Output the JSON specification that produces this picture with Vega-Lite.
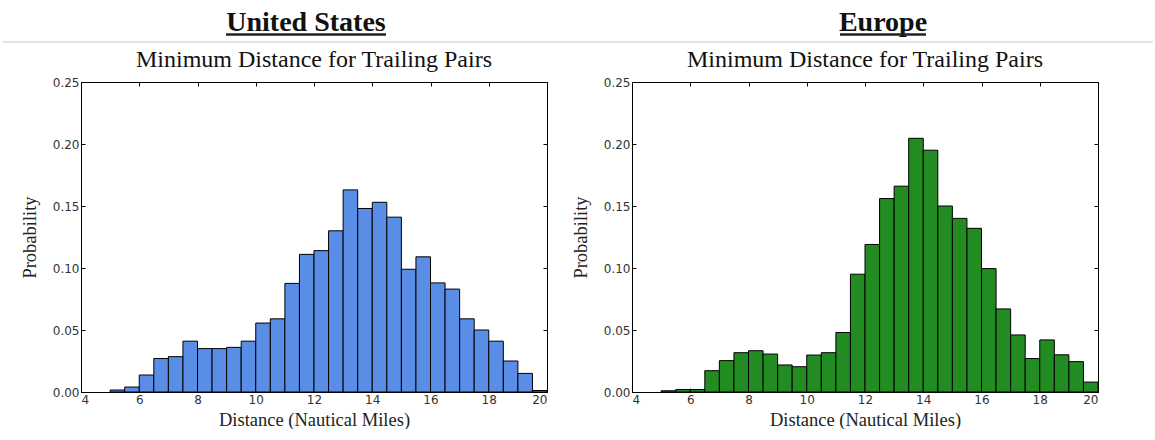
{
  "$schema": "https://vega.github.io/schema/vega-lite/v6.json",
  "background": "white",
  "padding": {"left": 2, "top": 0, "right": 0, "bottom": 0},
  "datasets": {
    "us": [
      {"lo": 5.0, "hi": 5.5, "p": 0.0016},
      {"lo": 5.5, "hi": 6.0, "p": 0.004},
      {"lo": 6.0, "hi": 6.5, "p": 0.0137},
      {"lo": 6.5, "hi": 7.0, "p": 0.027},
      {"lo": 7.0, "hi": 7.5, "p": 0.0285},
      {"lo": 7.5, "hi": 8.0, "p": 0.041},
      {"lo": 8.0, "hi": 8.5, "p": 0.035},
      {"lo": 8.5, "hi": 9.0, "p": 0.035},
      {"lo": 9.0, "hi": 9.5, "p": 0.036},
      {"lo": 9.5, "hi": 10.0, "p": 0.041},
      {"lo": 10.0, "hi": 10.5, "p": 0.0556},
      {"lo": 10.5, "hi": 11.0, "p": 0.059},
      {"lo": 11.0, "hi": 11.5, "p": 0.0876},
      {"lo": 11.5, "hi": 12.0, "p": 0.111},
      {"lo": 12.0, "hi": 12.5, "p": 0.114},
      {"lo": 12.5, "hi": 13.0, "p": 0.13},
      {"lo": 13.0, "hi": 13.5, "p": 0.163},
      {"lo": 13.5, "hi": 14.0, "p": 0.148},
      {"lo": 14.0, "hi": 14.5, "p": 0.153},
      {"lo": 14.5, "hi": 15.0, "p": 0.141},
      {"lo": 15.0, "hi": 15.5, "p": 0.099},
      {"lo": 15.5, "hi": 16.0, "p": 0.109},
      {"lo": 16.0, "hi": 16.5, "p": 0.088},
      {"lo": 16.5, "hi": 17.0, "p": 0.083},
      {"lo": 17.0, "hi": 17.5, "p": 0.059},
      {"lo": 17.5, "hi": 18.0, "p": 0.05},
      {"lo": 18.0, "hi": 18.5, "p": 0.041},
      {"lo": 18.5, "hi": 19.0, "p": 0.025},
      {"lo": 19.0, "hi": 19.5, "p": 0.015},
      {"lo": 19.5, "hi": 20.0, "p": 0.0012}
    ],
    "eu": [
      {"lo": 5.0, "hi": 5.5, "p": 0.001},
      {"lo": 5.5, "hi": 6.0, "p": 0.002},
      {"lo": 6.0, "hi": 6.5, "p": 0.002},
      {"lo": 6.5, "hi": 7.0, "p": 0.0172},
      {"lo": 7.0, "hi": 7.5, "p": 0.0253},
      {"lo": 7.5, "hi": 8.0, "p": 0.0317},
      {"lo": 8.0, "hi": 8.5, "p": 0.0333},
      {"lo": 8.5, "hi": 9.0, "p": 0.0306},
      {"lo": 9.0, "hi": 9.5, "p": 0.0218},
      {"lo": 9.5, "hi": 10.0, "p": 0.0204},
      {"lo": 10.0, "hi": 10.5, "p": 0.0298},
      {"lo": 10.5, "hi": 11.0, "p": 0.0317},
      {"lo": 11.0, "hi": 11.5, "p": 0.048},
      {"lo": 11.5, "hi": 12.0, "p": 0.095},
      {"lo": 12.0, "hi": 12.5, "p": 0.119},
      {"lo": 12.5, "hi": 13.0, "p": 0.156},
      {"lo": 13.0, "hi": 13.5, "p": 0.166},
      {"lo": 13.5, "hi": 14.0, "p": 0.2046},
      {"lo": 14.0, "hi": 14.5, "p": 0.195},
      {"lo": 14.5, "hi": 15.0, "p": 0.15},
      {"lo": 15.0, "hi": 15.5, "p": 0.14},
      {"lo": 15.5, "hi": 16.0, "p": 0.132},
      {"lo": 16.0, "hi": 16.5, "p": 0.0995},
      {"lo": 16.5, "hi": 17.0, "p": 0.067},
      {"lo": 17.0, "hi": 17.5, "p": 0.046},
      {"lo": 17.5, "hi": 18.0, "p": 0.027},
      {"lo": 18.0, "hi": 18.5, "p": 0.042},
      {"lo": 18.5, "hi": 19.0, "p": 0.03},
      {"lo": 19.0, "hi": 19.5, "p": 0.0245},
      {"lo": 19.5, "hi": 20.0, "p": 0.008}
    ],
    "regions": [
      {"region": "United States"},
      {"region": "Europe"}
    ]
  },
  "config": {
    "view": {"stroke": "black", "strokeWidth": 1},
    "axis": {
      "labelFont": "DejaVu Sans",
      "labelFontSize": 12,
      "labelColor": "#333",
      "titleFont": "Liberation Serif",
      "titleFontSize": 18.5,
      "titleFontWeight": "normal",
      "titleColor": "#222",
      "grid": false,
      "domain": false,
      "tickColor": "black",
      "tickSize": -4
    },
    "title": {
      "font": "Liberation Serif",
      "fontSize": 24,
      "fontWeight": "normal",
      "color": "#111",
      "offset": 4
    }
  },
  "spacing": 4,
  "vconcat": [
    {
      "width": 1072,
      "height": 42,
      "view": {"stroke": null},
      "data": {"name": "regions"},
      "layer": [
        {
          "mark": {"type": "text", "font": "Liberation Serif", "fontSize": 28, "fontWeight": "bold", "color": "#111", "baseline": "alphabetic", "y": 31},
          "encoding": {
            "x": {
              "field": "region",
              "type": "nominal",
              "scale": {"type": "point", "padding": 0, "domain": ["United States", "Europe"], "range": [225, 802]},
              "axis": null
            },
            "text": {"field": "region"}
          }
        },
        {
          "transform": [{"filter": "datum.region === 'United States'"}],
          "mark": {"type": "rule", "color": "#222", "strokeWidth": 2.5, "y": 34.5, "xOffset": -80, "x2Offset": 80},
          "encoding": {"x": {"field": "region", "type": "nominal"}, "x2": {"field": "region"}}
        },
        {
          "transform": [{"filter": "datum.region === 'Europe'"}],
          "mark": {"type": "rule", "color": "#222", "strokeWidth": 2.5, "y": 34.5, "xOffset": -43, "x2Offset": 43},
          "encoding": {"x": {"field": "region", "type": "nominal"}, "x2": {"field": "region"}}
        },
        {
          "transform": [{"filter": "datum.region === 'Europe'"}],
          "mark": {"type": "rule", "color": "#d8d8d8", "strokeWidth": 1.5},
          "encoding": {"y": {"value": 42}, "x": {"value": -78}, "x2": {"value": 1072}}
        }
      ]
    },
    {
      "spacing": 22,
      "hconcat": [
        {
          "width": 466,
          "height": 310,
          "title": "Minimum Distance for Trailing Pairs",
          "data": {"name": "us"},
          "resolve": {"axis": {"x": "independent", "y": "independent"}},
          "layer": [
            {
              "mark": {"type": "bar", "fill": "#5a8de6", "stroke": "black", "strokeWidth": 1},
              "encoding": {
                "x": {"field": "lo", "type": "quantitative", "scale": {"domain": [4, 20], "nice": false, "zero": false},
                  "axis": {"values": [4, 6, 8, 10, 12, 14, 16, 18, 20], "format": "d", "labelPadding": 6, "title": "Distance (Nautical Miles)", "titlePadding": 5}},
                "x2": {"field": "hi"},
                "y": {"field": "p", "type": "quantitative", "scale": {"domain": [0, 0.25], "nice": false},
                  "axis": {"values": [0, 0.05, 0.1, 0.15, 0.2, 0.25], "format": ".2f", "labelPadding": 6, "title": "Probability", "titlePadding": 13}},
                "y2": {"datum": 0}
              }
            },
            {
              "mark": {"type": "bar", "opacity": 0},
              "encoding": {
                "x": {"field": "lo", "type": "quantitative", "axis": {"orient": "top", "values": [4, 6, 8, 10, 12, 14, 16, 18, 20], "labels": false, "title": null}},
                "x2": {"field": "hi"},
                "y": {"field": "p", "type": "quantitative", "axis": {"orient": "right", "values": [0, 0.05, 0.1, 0.15, 0.2, 0.25], "labels": false, "title": null}},
                "y2": {"datum": 0}
              }
            }
          ]
        },
        {
          "width": 466,
          "height": 310,
          "title": "Minimum Distance for Trailing Pairs",
          "data": {"name": "eu"},
          "resolve": {"axis": {"x": "independent", "y": "independent"}},
          "layer": [
            {
              "mark": {"type": "bar", "fill": "#228b22", "stroke": "black", "strokeWidth": 1},
              "encoding": {
                "x": {"field": "lo", "type": "quantitative", "scale": {"domain": [4, 20], "nice": false, "zero": false},
                  "axis": {"values": [4, 6, 8, 10, 12, 14, 16, 18, 20], "format": "d", "labelPadding": 6, "title": "Distance (Nautical Miles)", "titlePadding": 5}},
                "x2": {"field": "hi"},
                "y": {"field": "p", "type": "quantitative", "scale": {"domain": [0, 0.25], "nice": false},
                  "axis": {"values": [0, 0.05, 0.1, 0.15, 0.2, 0.25], "format": ".2f", "labelPadding": 6, "title": "Probability", "titlePadding": 13}},
                "y2": {"datum": 0}
              }
            },
            {
              "mark": {"type": "bar", "opacity": 0},
              "encoding": {
                "x": {"field": "lo", "type": "quantitative", "axis": {"orient": "top", "values": [4, 6, 8, 10, 12, 14, 16, 18, 20], "labels": false, "title": null}},
                "x2": {"field": "hi"},
                "y": {"field": "p", "type": "quantitative", "axis": {"orient": "right", "values": [0, 0.05, 0.1, 0.15, 0.2, 0.25], "labels": false, "title": null}},
                "y2": {"datum": 0}
              }
            }
          ]
        }
      ]
    }
  ]
}
